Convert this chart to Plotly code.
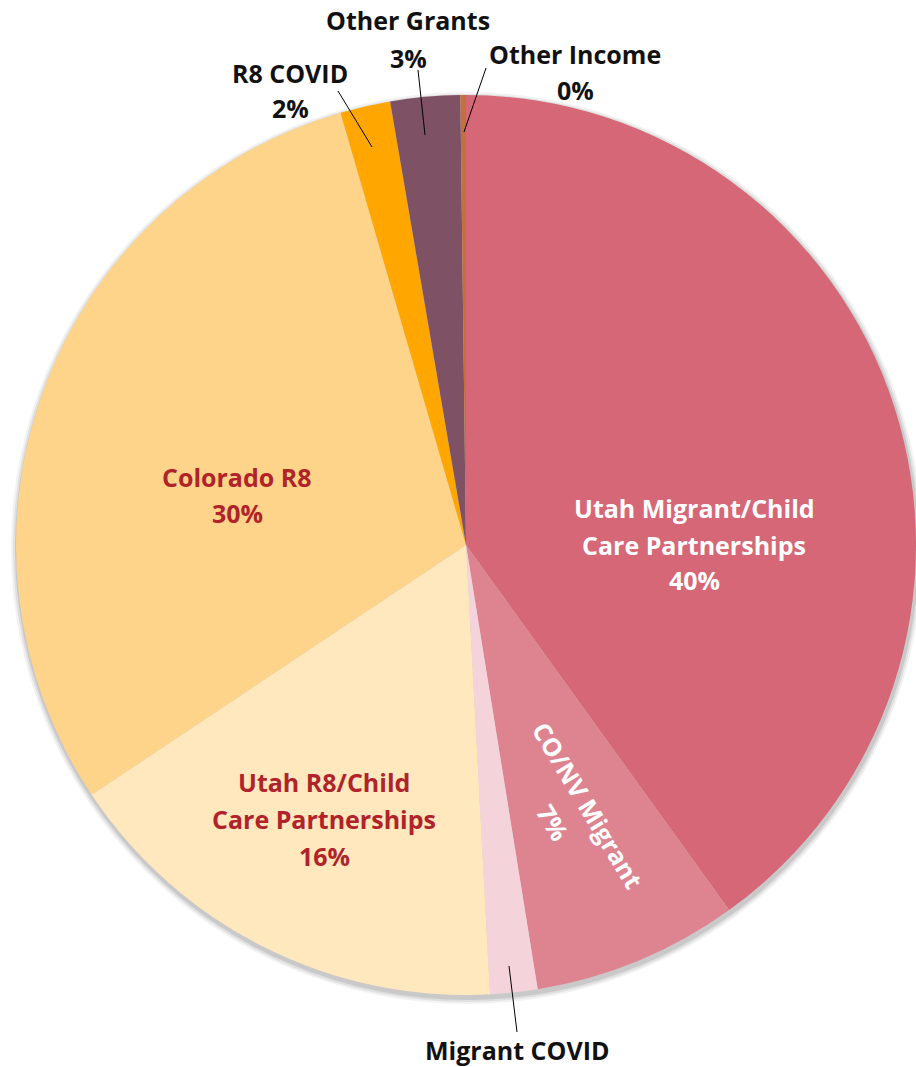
import plotly.graph_objects as go

W, H = 916, 1067

# ---- data ----
categories = ["Utah Migrant/Child Care Partnerships", "CO/NV Migrant", "Migrant COVID",
              "Utah R8/Child Care Partnerships", "Colorado R8", "R8 COVID",
              "Other Grants", "Other Income"]
values = [40.1, 7.4, 1.7, 16.5, 29.9, 1.8, 2.5, 0.2]
pct_labels = ["40%", "7%", "", "16%", "30%", "2%", "3%", "0%"]
colors = ["#D66777", "#DE8491", "#F4D3DA", "#FFE7BE", "#FED38A", "#FFA600", "#7E5264", "#C2703F"]

# ---- geometry (pixels) ----
cx, cy, R = 466, 545, 450

def px(x):
    return x / W

def py(y):
    return 1 - y / H

fig = go.Figure()

fig.add_trace(go.Pie(
    labels=categories, values=values, sort=False, direction="clockwise", rotation=0,
    marker=dict(colors=colors, line=dict(width=0)),
    textinfo="none", hoverinfo="label+percent", showlegend=False,
    domain=dict(x=[px(cx - R), px(cx + R)], y=[py(cy + R), py(cy - R)]),
))

# soft drop shadow
shapes = []
for k, (dr, op) in enumerate([(6, 0.05), (4, 0.07), (2, 0.10)]):
    r = R + dr
    ox, oy = 1, 3
    shapes.append(dict(type="circle", xref="paper", yref="paper", layer="below",
                       x0=px(cx + ox - r), x1=px(cx + ox + r),
                       y0=py(cy + oy + r), y1=py(cy + oy - r),
                       fillcolor=f"rgba(0,0,0,{op})", line=dict(width=0)))

# leader lines
leaders = [((338, 91), (372, 147)), ((418, 70), (425, 135)),
           ((486, 68), (464, 132)), ((509, 966), (517, 1032))]
for (x0, y0), (x1, y1) in leaders:
    shapes.append(dict(type="line", xref="paper", yref="paper",
                       x0=px(x0), y0=py(y0), x1=px(x1), y1=py(y1),
                       line=dict(color="black", width=1)))

FONT = "Open Sans"
FS = 25
WHITE, RED, BLACK = "#FFFFFF", "#B0232B", "#111111"
lines = [
    ("Utah Migrant/Child", 694, 508, WHITE), ("Care Partnerships", 694, 545, WHITE),
    (pct_labels[0], 694, 580, WHITE),
    ("Colorado R8", 237, 477, RED), (pct_labels[4], 237, 513, RED),
    ("Utah R8/Child", 324, 782, RED), ("Care Partnerships", 324, 819, RED),
    (pct_labels[3], 324, 856, RED),
    ("Other Grants", 408, 20, BLACK), (pct_labels[6], 408, 58, BLACK),
    ("Other Income", 575, 54, BLACK), (pct_labels[7], 575, 90, BLACK),
    ("R8 COVID", 290, 73, BLACK), (pct_labels[5], 290, 108, BLACK),
    ("Migrant COVID", 517, 1050, BLACK),
]
annotations = []
for t, x, y, c in lines:
    annotations.append(dict(text=t, x=px(x), y=py(y), xref="paper", yref="paper",
                            xanchor="center", yanchor="middle", showarrow=False,
                            font=dict(family=FONT, size=FS, color=c, weight=700)))
for t, x, y in [("CO/NV Migrant", 588, 805), (pct_labels[1], 553, 822)]:
    annotations.append(dict(text=t, x=px(x), y=py(y), xref="paper", yref="paper",
                            xanchor="center", yanchor="middle", showarrow=False,
                            textangle=59,
                            font=dict(family=FONT, size=FS, color=WHITE, weight=700)))

fig.update_layout(
    width=W, height=H, margin=dict(l=0, r=0, t=0, b=0),
    paper_bgcolor="white", plot_bgcolor="white",
    shapes=shapes, annotations=annotations,
)

fig.write_html("out.html")
